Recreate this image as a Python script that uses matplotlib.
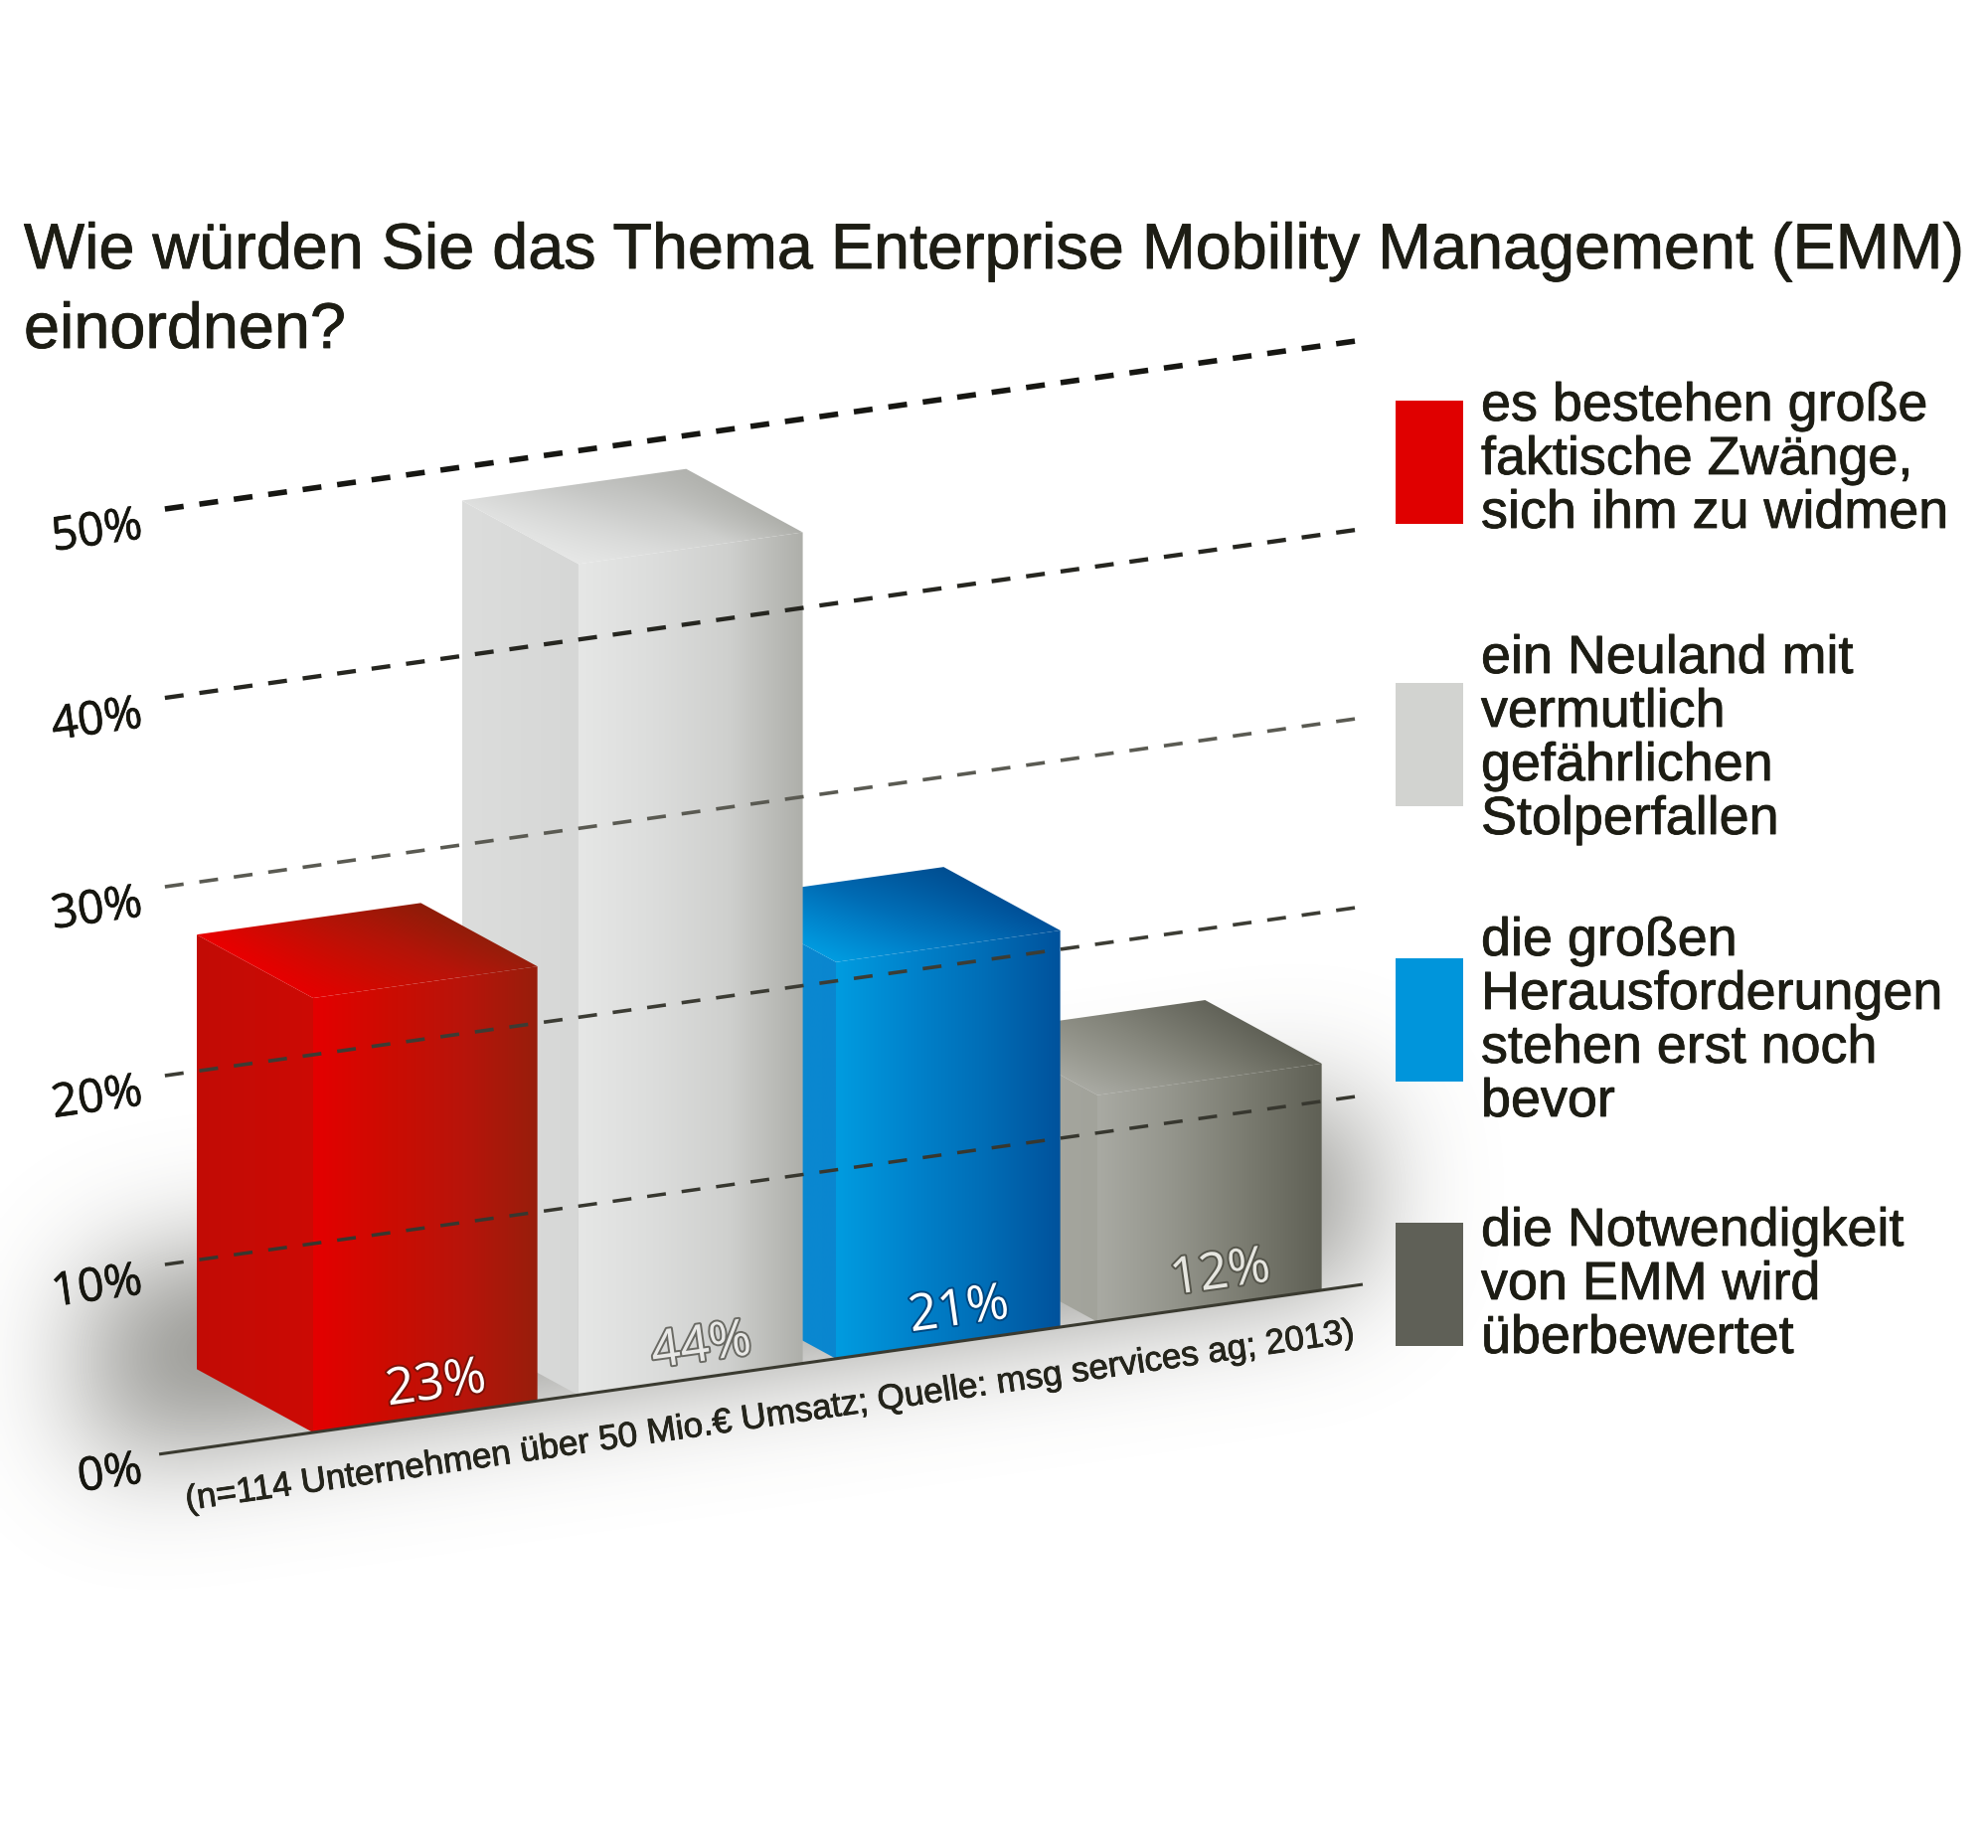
import numpy as np
import matplotlib
matplotlib.use("Agg")
import matplotlib.pyplot as plt
import matplotlib.patheffects as pe
from matplotlib.colors import LinearSegmentedColormap
from matplotlib.patches import Polygon, Rectangle
from matplotlib.path import Path
from matplotlib.transforms import Affine2D

plt.rcParams['font.family'] = ['Liberation Sans', 'DejaVu Sans']

title_lines = ["Wie würden Sie das Thema Enterprise Mobility Management (EMM)", "einordnen?"]
source_note = "(n=114 Unternehmen über 50 Mio.€ Umsatz; Quelle: msg services ag; 2013)"

values = [23, 44, 21, 12]
value_labels = ["23%", "44%", "21%", "12%"]
grid_ticks = [0, 10, 20, 30, 40, 50]
tick_labels = ["0%", "10%", "20%", "30%", "40%", "50%"]

legend_lines = [
    ["es bestehen große", "faktische Zwänge,", "sich ihm zu widmen"],
    ["ein Neuland mit", "vermutlich", "gefährlichen", "Stolperfallen"],
    ["die großen", "Herausforderungen", "stehen erst noch", "bevor"],
    ["die Notwendigkeit", "von EMM wird", "überbewertet"],
]
swatch_colors = ["#e00000", "#d2d3d0", "#0095db", "#5f6057"]

# colour stops per bar: side face, front face, back edge of the top face
side_stops = [["#c20c06", "#cc0a04"], ["#dcdddc", "#d6d7d6"], ["#0a8ed6", "#0a86cf"], ["#a9aaa3", "#a2a39b"]]
front_stops = [
    ["#e40000", "#cc0c02", "#b8140a", "#981e0c"],
    ["#e6e7e6", "#dcdddc", "#cfd0ce", "#aeafaa"],
    ["#009ce0", "#0083cc", "#006db6", "#00529c"],
    ["#a9aaa3", "#94958c", "#7a7b70", "#5f6055"],
]
top_stops = [
    ["#ea0000", "#b81206", "#8e1c08"],
    ["#dedfde", "#c4c5c3", "#b2b3af"],
    ["#0090d8", "#0068b0", "#004f92"],
    ["#a0a198", "#85867c", "#63645a"],
]

# bar geometry in chart units (slot along the floor, percent upward)
bar_slots = [0, 1.015, 2.0, 3.0]
bar_width = 0.858
depth_slot = -0.446
depth_pct = 4.23

fig = plt.figure(figsize=(20, 18.59), dpi=100, facecolor="white")
ax = fig.add_axes([0, 0, 1, 1])
ax.set_axis_off()

# sheared chart plane: slot, percent -> canvas position
chart = Affine2D.from_values(263, -37.1, 0, -19.0, 315, 1441)
plane = chart + ax.transData


def to_px(points):
    return chart.transform(np.array(points, dtype=float))


def bbox_extent(px):
    return [px[:, 0].min(), px[:, 0].max(), px[:, 1].max(), px[:, 1].min()]


def clip_patch(corners, zorder):
    clip = Polygon(corners, closed=True, transform=plane, fc="none", ec="none", zorder=zorder)
    ax.add_patch(clip)
    return clip


def gradient_face(corners, stops, zorder):
    px = to_px(corners)
    cmap = LinearSegmentedColormap.from_list("face", stops)
    ramp = cmap(np.linspace(0, 1, 256))[None, :, :]
    clip = clip_patch(corners, zorder)
    im = ax.imshow(ramp, extent=bbox_extent(px), aspect="auto", interpolation="bilinear", zorder=zorder)
    im.set_clip_path(clip)


def top_face(corners, s0, v, front_cols, back_cols, zorder):
    # front edge takes the front face colours so the fold between them stays soft
    px = to_px(corners)
    ext = bbox_extent(px)
    xs = np.arange(ext[0], ext[1] + 2, 2)
    ys = np.arange(ext[3], ext[2] + 2, 2)
    gx, gy = np.meshgrid(xs, ys)
    sp = chart.inverted().transform(np.c_[gx.ravel(), gy.ravel()])
    w = (sp[:, 1] - v) / depth_pct
    u = (sp[:, 0] - s0 - w * depth_slot) / bar_width
    w = np.clip(w, 0, 1)[:, None]
    u = np.clip(u, 0, 1)
    front_c = LinearSegmentedColormap.from_list("f", front_cols)(u)
    back_c = LinearSegmentedColormap.from_list("b", back_cols)(u)
    rgba = (front_c * (1 - w) + back_c * w).reshape(gx.shape + (4,))
    clip = clip_patch(corners, zorder)
    im = ax.imshow(rgba, extent=ext, aspect="auto", interpolation="bilinear", zorder=zorder)
    im.set_clip_path(clip)


def soft_shadow():
    # blurred floor shadow, worked out on a coarse grid
    step = 4
    xs = np.arange(0, 2000, step)
    ys = np.arange(0, 1859, step)
    gx, gy = np.meshgrid(xs, ys)
    outline = Path(to_px([(-0.85, 0.5), (4.0, 0.5), (4.0, 10), (-0.85, 10)]))
    mask = outline.contains_points(np.c_[gx.ravel(), gy.ravel()]).reshape(gx.shape).astype(float)
    sigma = 60 / step
    t = np.arange(-int(3 * sigma), int(3 * sigma) + 1)
    kernel = np.exp(-t ** 2 / (2 * sigma ** 2))
    kernel /= kernel.sum()
    mask = np.apply_along_axis(lambda r: np.convolve(r, kernel, mode="same"), 0, mask)
    mask = np.apply_along_axis(lambda r: np.convolve(r, kernel, mode="same"), 1, mask)
    rgba = np.zeros(mask.shape + (4,))
    rgba[..., :3] = (0.36, 0.36, 0.33)
    rgba[..., 3] = mask * 0.68
    ax.imshow(rgba, extent=[0, 2000, 1859, 0], aspect="auto", interpolation="bilinear", zorder=1)


soft_shadow()

# back to front: the later categories sit behind, the grey bar sits over the blue one
draw_order = [3, 2, 1, 0]
for rank, i in enumerate(draw_order):
    v = values[i]
    z = 2 + rank * 0.1
    s0, s1 = bar_slots[i], bar_slots[i] + bar_width
    side = [(s0, 0), (s0 + depth_slot, depth_pct), (s0 + depth_slot, v + depth_pct), (s0, v)]
    front = [(s0, 0), (s1, 0), (s1, v), (s0, v)]
    top = [(s0, v), (s0 + depth_slot, v + depth_pct), (s1 + depth_slot, v + depth_pct), (s1, v)]
    gradient_face(side, side_stops[i], z)
    gradient_face(front, front_stops[i], z + 0.01)
    top_face(top, s0, v, front_stops[i], top_stops[i], z + 0.02)

# dashed grid in front of the bars, heavier toward the top
grid_colors = ["#3a3a30", "#37372f", "#3c3c34", "#5a5a52", "#262620", "#161612"]
grid_widths = [2.2, 2.5, 2.6, 2.6, 3.1, 4.0]
for tick, col, lw in zip(grid_ticks, grid_colors, grid_widths):
    if tick == 0:
        ax.plot([-0.589, 4.015], [tick, tick], color=col, lw=lw, transform=plane, zorder=4,
                solid_capstyle="butt")
    else:
        ax.plot([-0.567, 3.99], [tick, tick], color=col, lw=lw, transform=plane, zorder=4,
                linestyle=(0, (19 / lw * 0.72, 16 / lw * 0.72)), dash_capstyle="butt")

tick_font = ["Liberation Sans Narrow", "Open Sans", "DejaVu Sans"]
for tick, lab in zip(grid_ticks, tick_labels):
    px = to_px([(-0.654, tick - 0.7)])[0]
    ax.text(px[0], px[1], lab, fontsize=33.5, family=tick_font, rotation=8, color="#16160f",
            ha="right", va="center", rotation_mode="anchor", zorder=5,
            path_effects=[pe.withStroke(linewidth=0.5, foreground="#16160f")])

label_styles = [
    ("white", "#7a1208"), ("#e8e8e6", "#6a6a64"), ("white", "#00467e"), ("#e6e6e0", "#55554b"),
]
for i, (v, lab) in enumerate(zip(values, value_labels)):
    px = to_px([(bar_slots[i] + 0.47, 1.6)])[0]
    fg, edge = label_styles[i]
    ax.text(px[0], px[1], lab, fontsize=37, family=tick_font, rotation=8, color=fg,
            ha="center", va="center", rotation_mode="anchor", zorder=6,
            path_effects=[pe.withStroke(linewidth=2.8, foreground=edge)])

# slightly heavier strokes for the body text
ink = [pe.withStroke(linewidth=0.6, foreground="#1d1d14")]

for line, base in zip(title_lines, [270, 350]):
    ax.text(24, base, line, fontsize=46.6, color="#1d1d14", ha="left", va="baseline", zorder=6,
            path_effects=ink)

ax.text(188, 1519, source_note, fontsize=25.3, color="#25251c", rotation=8.2,
        ha="left", va="baseline", rotation_mode="anchor", zorder=6, path_effects=ink)

swatch_tops = [403, 687, 964, 1230]
first_baselines = [423, 677, 961, 1253]
for lines, top, base, col in zip(legend_lines, swatch_tops, first_baselines, swatch_colors):
    ax.add_patch(Rectangle((1404, top), 68, 124, fc=col, ec="none", zorder=6))
    for n, line in enumerate(lines):
        ax.text(1490, base + n * 54, line, fontsize=38.8, color="#1d1d14", ha="left", va="baseline",
                zorder=6, path_effects=ink)

ax.set_xlim(0, 2000)
ax.set_ylim(1859, 0)

fig.savefig("out.png", dpi=100, facecolor="white")
